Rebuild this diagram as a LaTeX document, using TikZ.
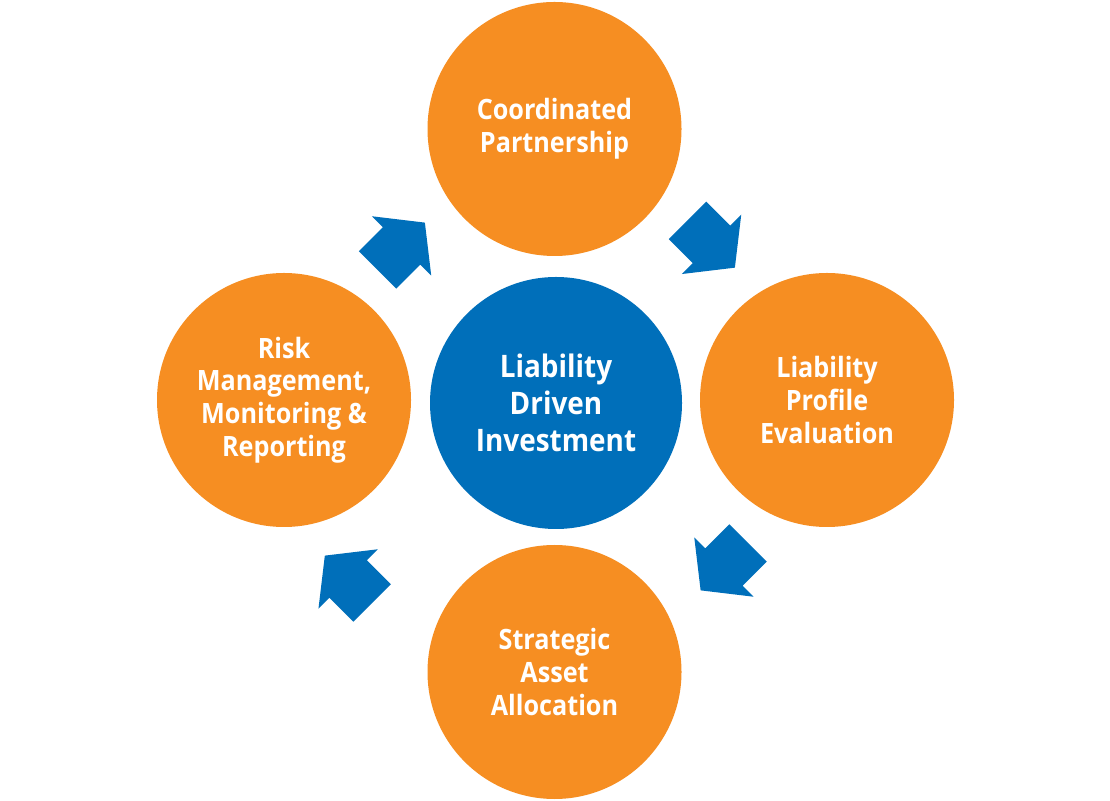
\documentclass[tikz,border=0pt]{standalone}
\usepackage{fontspec}
\setmainfont{Open Sans}
\newfontfamily\diagfont[BoldFont={* Bold},BoldFeatures={FakeStretch=0.9}]{Open Sans}
\definecolor{ldiorange}{HTML}{F68E22}
\definecolor{ldiblue}{HTML}{006FBA}
\begin{document}
\begin{tikzpicture}[x=1pt,y=1pt,
  stage/.style={circle,fill=ldiorange,minimum size=254pt,inner sep=0pt,text=white,align=center,
    font=\diagfont\bfseries\fontsize{28}{32.7}\selectfont},
  hub/.style={circle,fill=ldiblue,minimum size=252pt,inner sep=0pt,text=white,align=center,
    font=\diagfont\bfseries\fontsize{31}{37}\selectfont},
  blockarrow/.pic={\fill[ldiblue] (0,-26.5) -- (34,-26.5) -- (34,-42) -- (67,0) -- (34,42) -- (34,26.5) -- (0,26.5) -- cycle;}]
\useasboundingbox (0,0) rectangle (1110,800);
\fill[white] (0,0) rectangle (1110,800);
\node[stage] (top) at (554.5,671) {Coordinated\\Partnership};
\node[stage] (right) at (827,400) {Liability\\Profile\\Evaluation};
\node[stage] (bottom) at (554.5,128) {Strategic\\Asset\\Allocation};
\node[stage] (left) at (284,400) {Risk\\Management,\\Monitoring \&\\Reporting};
\node[hub] (hub) at (556,397) {Liability\\Driven\\Investment};
\pic[rotate=45] at (377.5,530) {blockarrow};
\pic[rotate=-45] at (687.5,579.7) {blockarrow};
\pic[rotate=-135] at (748,257) {blockarrow};
\pic[rotate=135] at (372.2,197) {blockarrow};
\end{tikzpicture}
\end{document}
